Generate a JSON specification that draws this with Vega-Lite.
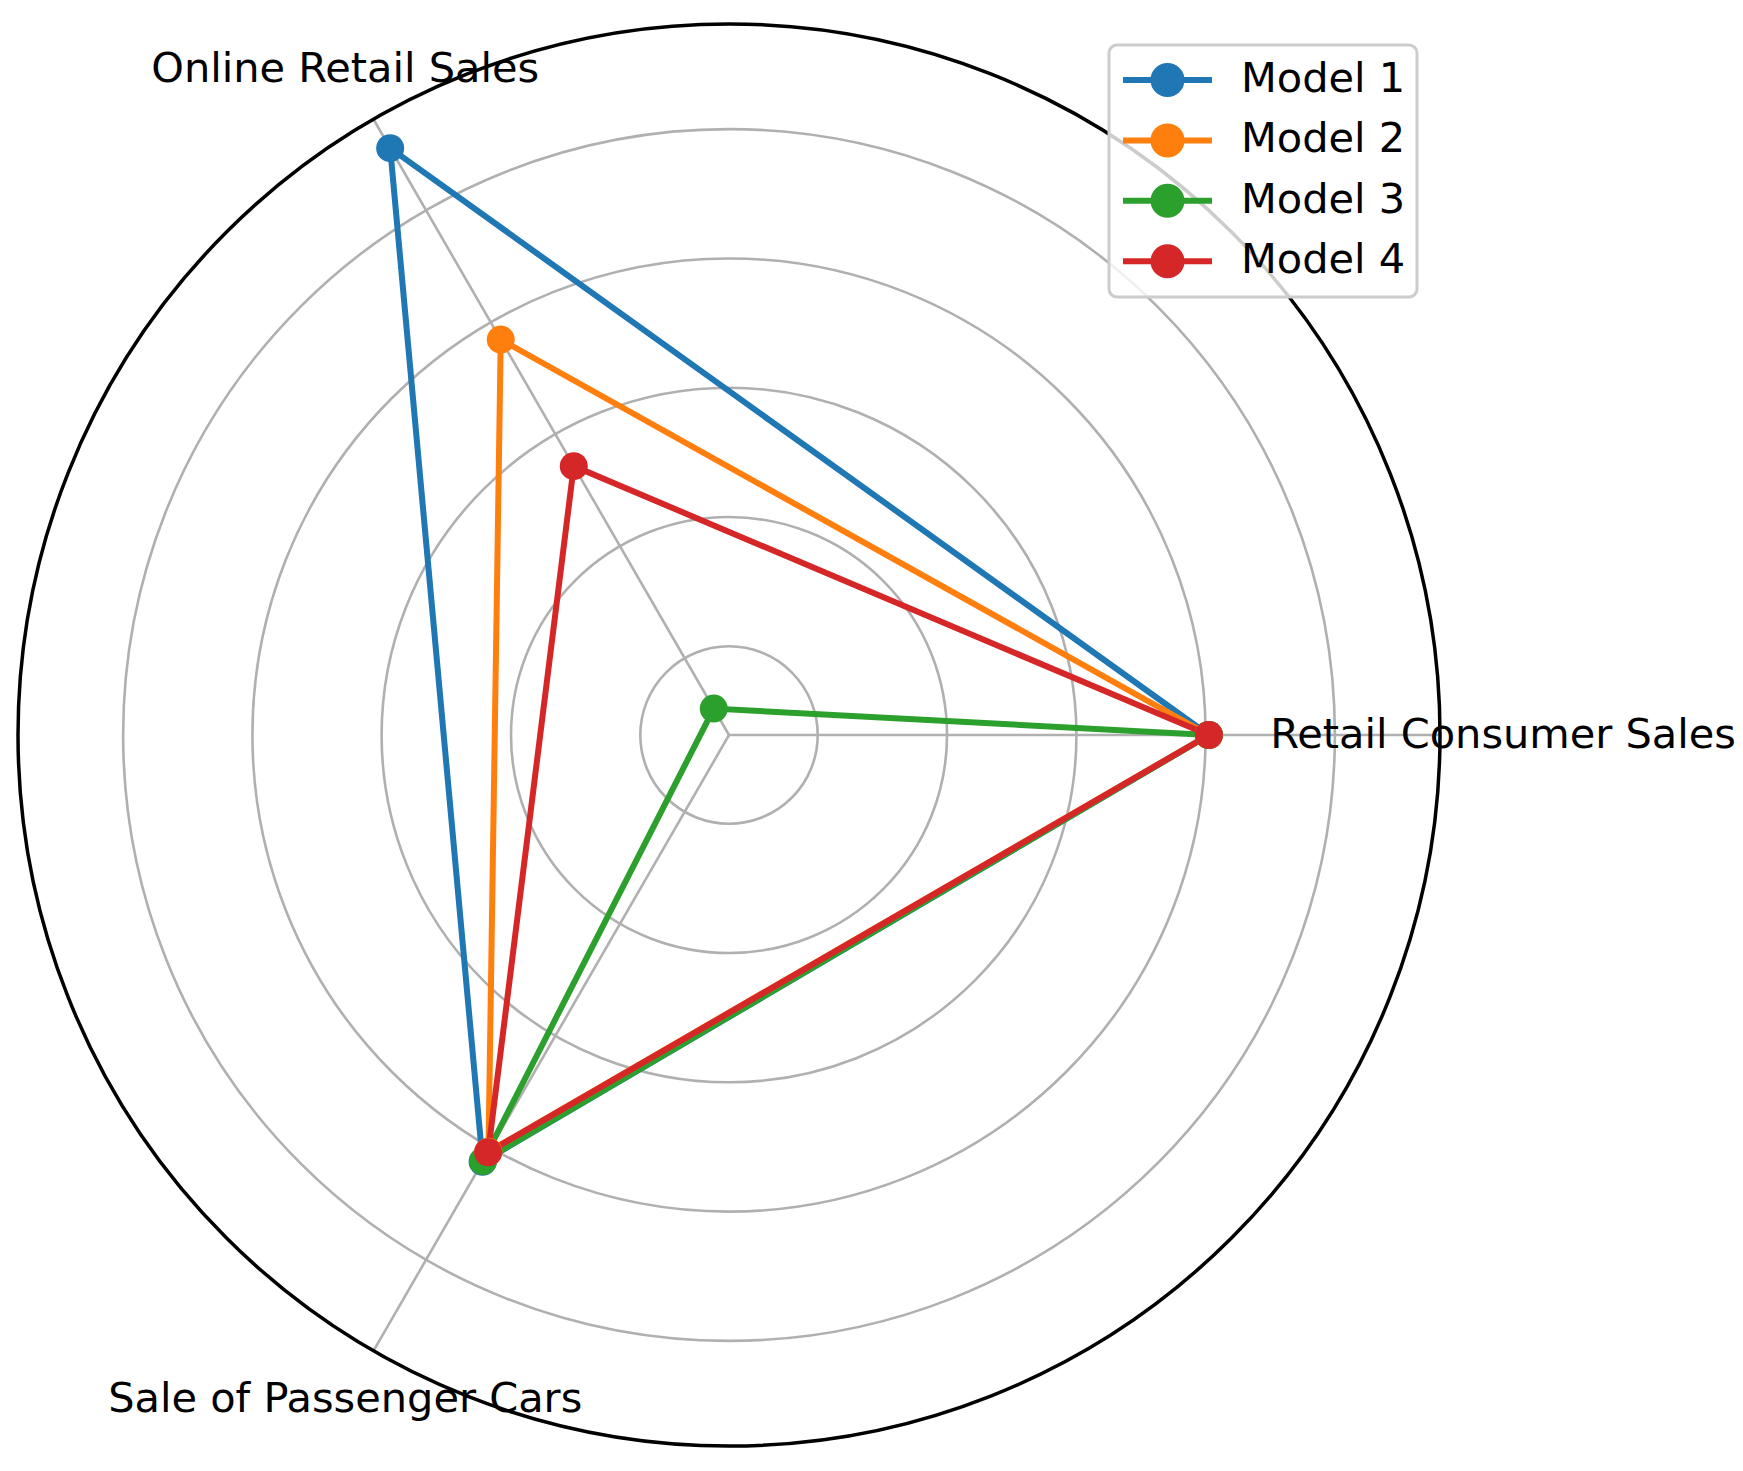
{
  "$schema": "https://vega.github.io/schema/vega-lite/v6.json",
  "width": 1743,
  "height": 1471,
  "autosize": {"type": "none"},
  "padding": 0,
  "background": "white",
  "config": {"view": {"stroke": null}, "font": "DejaVu Sans"},
  "datasets": {
    "scores": [
      {"model": "Model 1", "category": "Retail Consumer Sales", "value": 80.5},
      {"model": "Model 1", "category": "Online Retail Sales", "value": 111.1},
      {"model": "Model 1", "category": "Sale of Passenger Cars", "value": 82.5},
      {"model": "Model 2", "category": "Retail Consumer Sales", "value": 80.5},
      {"model": "Model 2", "category": "Online Retail Sales", "value": 76.9},
      {"model": "Model 2", "category": "Sale of Passenger Cars", "value": 80.7},
      {"model": "Model 3", "category": "Retail Consumer Sales", "value": 80.5},
      {"model": "Model 3", "category": "Online Retail Sales", "value": 11.0},
      {"model": "Model 3", "category": "Sale of Passenger Cars", "value": 82.4},
      {"model": "Model 4", "category": "Retail Consumer Sales", "value": 80.5},
      {"model": "Model 4", "category": "Online Retail Sales", "value": 54.3},
      {"model": "Model 4", "category": "Sale of Passenger Cars", "value": 80.8}
    ],
    "axes": [
      {"category": "Retail Consumer Sales"},
      {"category": "Online Retail Sales"},
      {"category": "Sale of Passenger Cars"}
    ],
    "grid": [{"r": 20}, {"r": 40}, {"r": 60}, {"r": 80}, {"r": 100}]
  },
  "layer": [
    {
      "data": {"name": "grid"},
      "mark": {"type": "arc", "theta": 0, "theta2": 6.2832, "filled": false, "stroke": "#b0b0b0", "strokeWidth": 2.6},
      "encoding": {
        "x": {"datum": 0, "type": "quantitative", "scale": {"domain": [-112.76, 156.84], "nice": false, "zero": false}, "axis": null},
        "y": {"datum": 0, "type": "quantitative", "scale": {"domain": [-113.84, 113.69], "nice": false, "zero": false}, "axis": null},
        "radius": {"field": "r", "type": "quantitative", "stack": null, "scale": {"type": "linear", "domain": [6.28, 116.26], "range": [0, 711], "zero": false, "nice": false}, "legend": null}
      }
    },
    {
      "data": {"name": "axes"},
      "transform": [
        {"calculate": "indexof(['Retail Consumer Sales','Online Retail Sales','Sale of Passenger Cars'], datum.category)", "as": "idx"},
        {"calculate": "datum.idx * 2 * PI / 3", "as": "ang"},
        {"calculate": "0", "as": "x0"},
        {"calculate": "0", "as": "y0"},
        {"calculate": "(116.26 - 6.28) * cos(datum.ang)", "as": "xe"},
        {"calculate": "(116.26 - 6.28) * sin(datum.ang)", "as": "ye"}
      ],
      "mark": {"type": "rule", "stroke": "#b0b0b0", "strokeWidth": 2.6},
      "encoding": {
        "x": {"field": "x0", "type": "quantitative"},
        "y": {"field": "y0", "type": "quantitative"},
        "x2": {"field": "xe"},
        "y2": {"field": "ye"}
      }
    },
    {
      "data": {"name": "scores"},
      "transform": [
        {"calculate": "indexof(['Retail Consumer Sales','Online Retail Sales','Sale of Passenger Cars'], datum.category)", "as": "idx"},
        {"calculate": "datum.idx * 2 * PI / 3", "as": "ang"},
        {"calculate": "(datum.value - 6.28) * cos(datum.ang)", "as": "px"},
        {"calculate": "(datum.value - 6.28) * sin(datum.ang)", "as": "py"}
      ],
      "layer": [
        {
          "mark": {"type": "line", "interpolate": "linear-closed", "strokeWidth": 6},
          "encoding": {
            "x": {"field": "px", "type": "quantitative"},
            "y": {"field": "py", "type": "quantitative"},
            "order": {"field": "idx", "type": "quantitative"},
            "color": {
              "field": "model", "type": "nominal",
              "scale": {"domain": ["Model 1", "Model 2", "Model 3", "Model 4"], "range": ["#1f77b4", "#ff7f0e", "#2ca02c", "#d62728"]},
              "legend": {
                "title": null,
                "orient": "none",
                "legendX": 1109,
                "legendY": 45,
                "padding": 11,
                "symbolType": "M-1,0L1,0M0.315,0A0.315,0.315,0,1,1,-0.315,0A0.315,0.315,0,1,1,0.315,0Z",
                "symbolSize": 7921,
                "symbolStrokeWidth": 6,
                "labelFont": "DejaVu Sans",
                "labelFontSize": 41.5,
                "labelColor": "black",
                "labelOffset": 26,
                "labelLimit": 400,
                "clipHeight": 48,
                "rowPadding": 12.4,
                "fillColor": "rgba(255,255,255,0.8)",
                "strokeColor": "#cccccc",
                "cornerRadius": 8,
                "encode": {
                  "symbols": {"update": {"fill": {"scale": "color", "field": "value"}, "stroke": {"scale": "color", "field": "value"}, "strokeWidth": {"value": 6}, "opacity": {"value": 1}}},
                  "legend": {"update": {"strokeWidth": {"value": 3}}}
                }
              }
            }
          }
        },
        {
          "mark": {"type": "point", "filled": true, "size": 784, "opacity": 1, "shape": "circle"},
          "encoding": {
            "x": {"field": "px", "type": "quantitative"},
            "y": {"field": "py", "type": "quantitative"},
            "color": {"field": "model", "type": "nominal"}
          }
        }
      ]
    },
    {
      "data": {"values": [{}]},
      "mark": {"type": "arc", "theta": 0, "theta2": 6.2832, "filled": false, "stroke": "black", "strokeWidth": 3.5},
      "encoding": {
        "x": {"datum": 0, "type": "quantitative"},
        "y": {"datum": 0, "type": "quantitative"},
        "radius": {"datum": 116.26, "type": "quantitative", "stack": null}
      }
    },
    {
      "data": {"name": "axes"},
      "transform": [
        {"calculate": "indexof(['Retail Consumer Sales','Online Retail Sales','Sale of Passenger Cars'], datum.category)", "as": "idx"},
        {"filter": "datum.idx == 0"},
        {"calculate": "datum.idx * 2 * PI / 3", "as": "ang"},
        {"calculate": "(90 - 6.28) * cos(datum.ang)", "as": "px"},
        {"calculate": "(90 - 6.28) * sin(datum.ang)", "as": "py"}
      ],
      "mark": {"type": "text", "align": "left", "baseline": "middle", "dy": 1, "font": "DejaVu Sans", "fontSize": 41.5, "color": "black"},
      "encoding": {
        "x": {"field": "px", "type": "quantitative"},
        "y": {"field": "py", "type": "quantitative"},
        "text": {"field": "category"}
      }
    },
    {
      "data": {"name": "axes"},
      "transform": [
        {"calculate": "indexof(['Retail Consumer Sales','Online Retail Sales','Sale of Passenger Cars'], datum.category)", "as": "idx"},
        {"filter": "datum.idx != 0"},
        {"calculate": "datum.idx * 2 * PI / 3", "as": "ang"},
        {"calculate": "(125 - 6.28) * cos(datum.ang)", "as": "px"},
        {"calculate": "(125 - 6.28) * sin(datum.ang)", "as": "py"}
      ],
      "mark": {"type": "text", "align": "center", "baseline": "middle", "font": "DejaVu Sans", "fontSize": 41.5, "color": "black"},
      "encoding": {
        "x": {"field": "px", "type": "quantitative"},
        "y": {"field": "py", "type": "quantitative"},
        "text": {"field": "category"}
      }
    }
  ]
}
